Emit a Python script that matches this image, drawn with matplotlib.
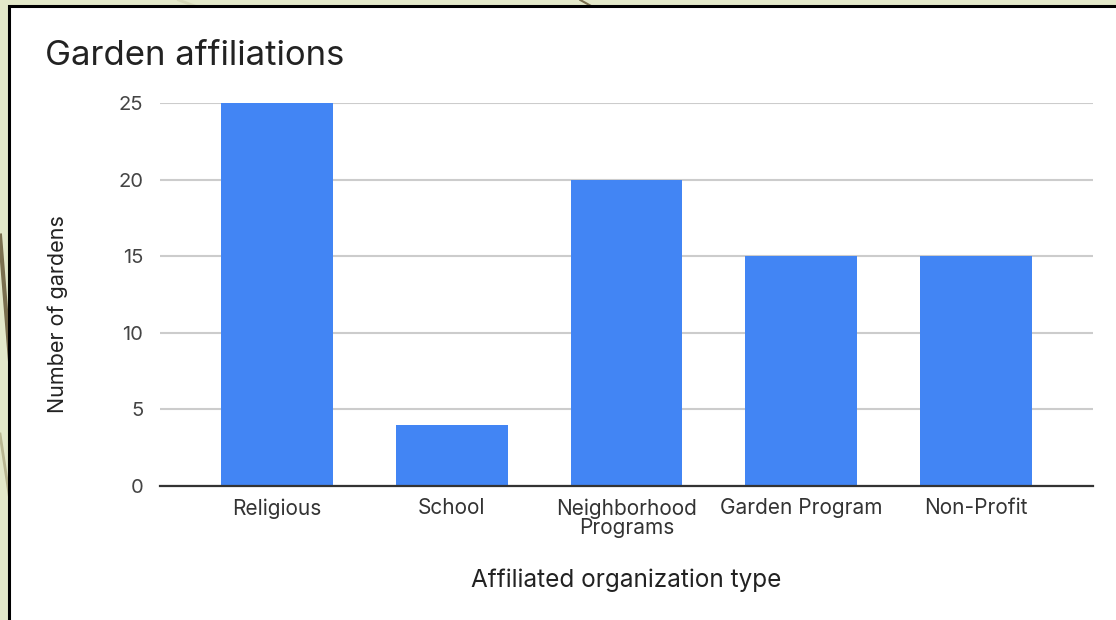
import matplotlib.pyplot as plt
from matplotlib.patches import Rectangle
from matplotlib.lines import Line2D

categories = ["Religious", "School", "Neighborhood\nPrograms", "Garden Program", "Non-Profit"]
gardens = [25, 4, 20, 15, 15]
yticks = [0, 5, 10, 15, 20, 25]

plt.rcParams['font.family'] = ['Inter', 'DejaVu Sans']

W, H = 1116, 620
fig = plt.figure(figsize=(W / 100, H / 100), dpi=100)
fig.patch.set_facecolor('#e3e8c9')

# slide background strokes on the left edge
for x0, y0, x1, y1, c, lw in [(0.0, 0.62, 0.012, 0.35, '#7a6f4e', 3),
                             (0.0, 0.30, 0.010, 0.18, '#b9b792', 2),
                             (0.16, 1.0, 0.19, 0.98, '#d6d9b8', 2),
                             (0.52, 1.0, 0.54, 0.98, '#7a6f4e', 1.5)]:
    fig.add_artist(Line2D([x0, x1], [y0, y1], color=c, lw=lw, transform=fig.transFigure, zorder=-3))

# white panel with black border
fig.add_artist(Rectangle((9 / W, -0.01), 1.2, 1 - 6 / H + 0.01, transform=fig.transFigure,
                         facecolor='white', edgecolor='black', linewidth=2.2, zorder=-2))

ax = fig.add_axes([160 / W, 1 - 486 / H, (1093 - 160) / W, (486 - 103) / H])
ax.patch.set_alpha(0)
x = range(len(categories))
ax.bar(x, gardens, width=0.64, color='#4285f4', zorder=2)

ax.set_xlim(-0.67, 4.67)
ax.set_ylim(0, 25)
ax.set_yticks(yticks)
ax.set_xticks(list(x))
ax.set_xticklabels(categories, fontsize=15, color='#333333', linespacing=0.92)
ax.tick_params(axis='y', length=0, pad=12, labelsize=14.5, labelcolor='#444444')
ax.tick_params(axis='x', length=0, pad=9)
ax.grid(axis='y', color='#cccccc', linewidth=1.5, zorder=0)
ax.set_axisbelow(True)
for s in ['top', 'right', 'left']:
    ax.spines[s].set_visible(False)
ax.spines['bottom'].set_color('#333333')
ax.spines['bottom'].set_linewidth(1.6)
ax.spines['bottom'].set_zorder(3)

ax.set_xlabel("Affiliated organization type", fontsize=17.5, color='#222222')
ax.xaxis.set_label_coords(0.5, -0.245)
ax.xaxis.label.set_va('center')
ax.set_ylabel("Number of gardens", fontsize=15.5, color='#222222', va='center')
ax.yaxis.set_label_coords(-0.110, 0.449)

fig.text(45 / W, 1 - 65 / H, "Garden affiliations", fontsize=25, color='#222222', va='baseline')

fig.savefig('out.png', dpi=100, facecolor=fig.get_facecolor())
